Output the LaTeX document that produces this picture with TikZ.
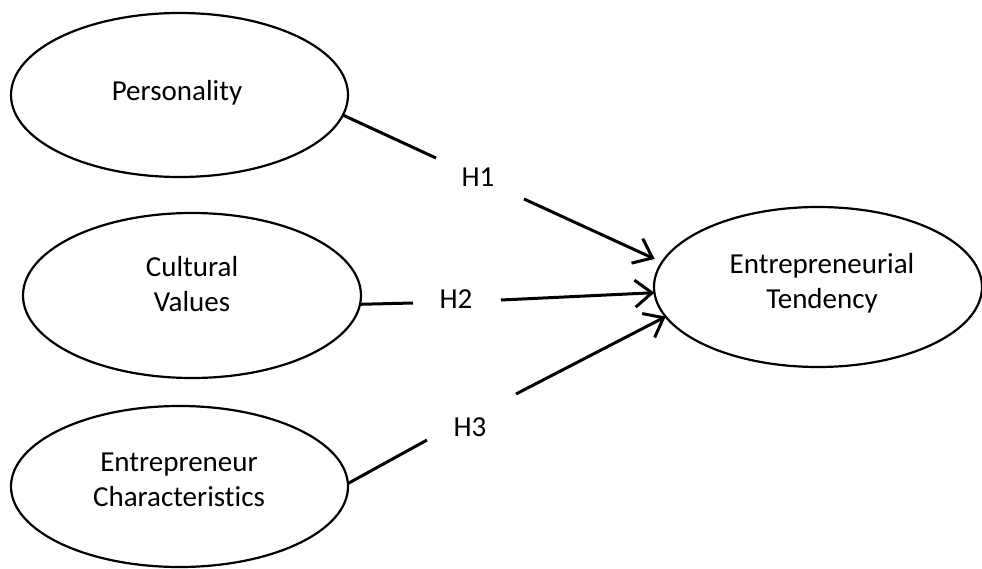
\documentclass[tikz,border=0pt]{standalone}
\usepackage{fontspec}
\setmainfont{Carlito}[Ligatures=NoCommon]
\usetikzlibrary{shapes.geometric,arrows.meta}
\begin{document}
\begin{tikzpicture}[x=1pt,y=-1pt,
  oval/.style={draw, ellipse, line width=2.2pt, inner sep=0pt, outer sep=0pt},
  txt/.style={font=\fontsize{29}{35}\selectfont, align=center, inner sep=0pt},
  link/.style={line width=3pt},
  arr/.style={line width=3pt, -{Straight Barb[length=17pt,width=27pt]}}]
\useasboundingbox (0,0) rectangle (982,569);
% ellipses
\node[oval, minimum width=337pt, minimum height=164pt] (P) at (179.5,95) {};
\node[oval, minimum width=338pt, minimum height=165pt] (C) at (192,295.5) {};
\node[oval, minimum width=337pt, minimum height=161pt] (E) at (179.5,486.5) {};
\node[oval, minimum width=328pt, minimum height=160pt] (T) at (818,287) {};
% texts
\node[txt, anchor=base] (Pt) at (177,101) {Personality};
\node[txt] (Ct) at (192,284.5) {Cultural\\Values};
\node[txt] (Et) at (179,479.5) {Entrepreneur\\Characteristics};
\node[txt] (Tt) at (822,283) {Entrepreneurial\\Tendency};
% hypothesis labels
\node[txt, anchor=base] (H1) at (478,186.7) {H1};
\node[txt, anchor=base] (H2) at (456,308) {H2};
\node[txt, anchor=base] (H3) at (470,436.7) {H3};
% gap ends
\coordinate (h1a) at (436,158);
\coordinate (h1b) at (524,199);
\coordinate (h2a) at (413,303);
\coordinate (h2b) at (501,300);
\coordinate (h3a) at (427,440);
\coordinate (h3b) at (516,394);
% connectors
\draw[link] (P.-7) -- (h1a);
\draw[arr, shorten >=8pt] (h1b) -- (T.171);
\draw[link] (C.-3) -- (h2a);
\draw[arr] (h2b) -- (T.182);
\draw[link] (E.1) -- (h3a);
\draw[arr] (h3b) -- (T.191);
\end{tikzpicture}
\end{document}
